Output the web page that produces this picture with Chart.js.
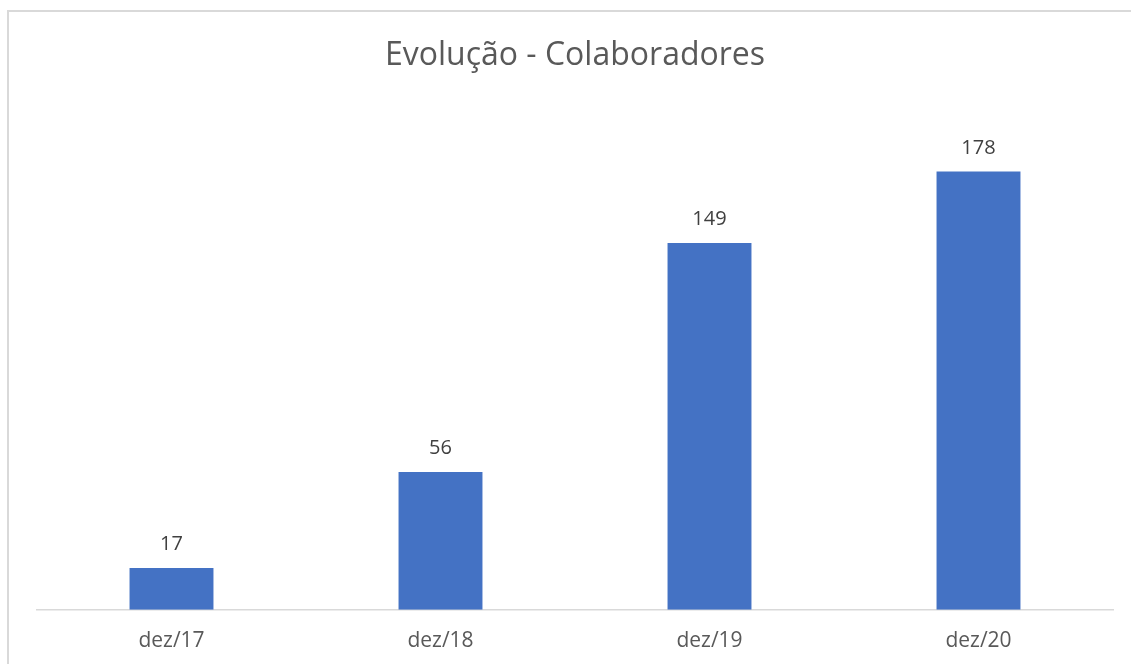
<!DOCTYPE html>
<html>
<head>
<meta charset="utf-8">
<script src="https://cdn.jsdelivr.net/npm/chart.js@4"></script>
<style>
  html, body { margin: 0; padding: 0; background: #fff; overflow: hidden; }
  #frame { position: absolute; left: 7px; top: 10px; width: 1200px; height: 700px;
           border: 2px solid #d9d9d9; box-sizing: border-box; }
  /* canvas runs a little past the window so the axis lands where the reference has it */
  #wrap { position: absolute; left: 0; top: 0; width: 1131px; height: 683px; }
</style>
</head>
<body>
<div id="frame"></div>
<div id="wrap"><canvas id="chart"></canvas></div>
<script>
'use strict';

const TITLE      = 'Evolução - Colaboradores';
const CATEGORIES = ['dez/17', 'dez/18', 'dez/19', 'dez/20'];
const HEADCOUNT  = [17, 56, 149, 178];

const COLORS = {
  bar:   '#4472c4',
  title: '#595959',
  tick:  '#595959',
  label: '#404040',
  axis:  '#d9d9d9',
};

const FONT = '"Open Sans", "Noto Sans", sans-serif';

// draws the value above each bar (no datalabels plugin offline)
const valueLabels = {
  id: 'valueLabels',
  afterDatasetsDraw(chart) {
    const ctx = chart.ctx;
    const meta = chart.getDatasetMeta(0);
    ctx.save();
    ctx.font = `20px ${FONT}`;
    ctx.fillStyle = COLORS.label;
    ctx.textAlign = 'center';
    ctx.textBaseline = 'alphabetic';
    meta.data.forEach((bar, i) => {
      ctx.fillText(String(HEADCOUNT[i]), bar.x, bar.y - 18);
    });
    ctx.restore();
  },
};

new Chart(document.getElementById('chart'), {
  type: 'bar',
  data: {
    labels: CATEGORIES,
    datasets: [{
      label: 'Colaboradores',
      data: HEADCOUNT,
      backgroundColor: COLORS.bar,
      borderWidth: 0,
      categoryPercentage: 1,
      barPercentage: 0.312,
    }],
  },
  options: {
    responsive: true,
    maintainAspectRatio: false,
    animation: false,
    layout: { padding: { left: 37, right: 18, top: 0, bottom: 10 } },
    plugins: {
      legend: { display: false },
      tooltip: { enabled: false },
      title: {
        display: true,
        text: TITLE,
        color: COLORS.title,
        font: { family: FONT, size: 32, weight: 'normal' },
        padding: { top: 37, bottom: 42 },
      },
    },
    scales: {
      x: {
        grid: { display: false, drawTicks: false },
        border: { display: true, color: COLORS.axis, width: 1.5 },
        ticks: { color: COLORS.tick, font: { family: FONT, size: 21 }, padding: 19 },
      },
      y: {
        display: false,
        min: 0,
        max: 200,
      },
    },
  },
  plugins: [valueLabels],
});
</script>
</body>
</html>
